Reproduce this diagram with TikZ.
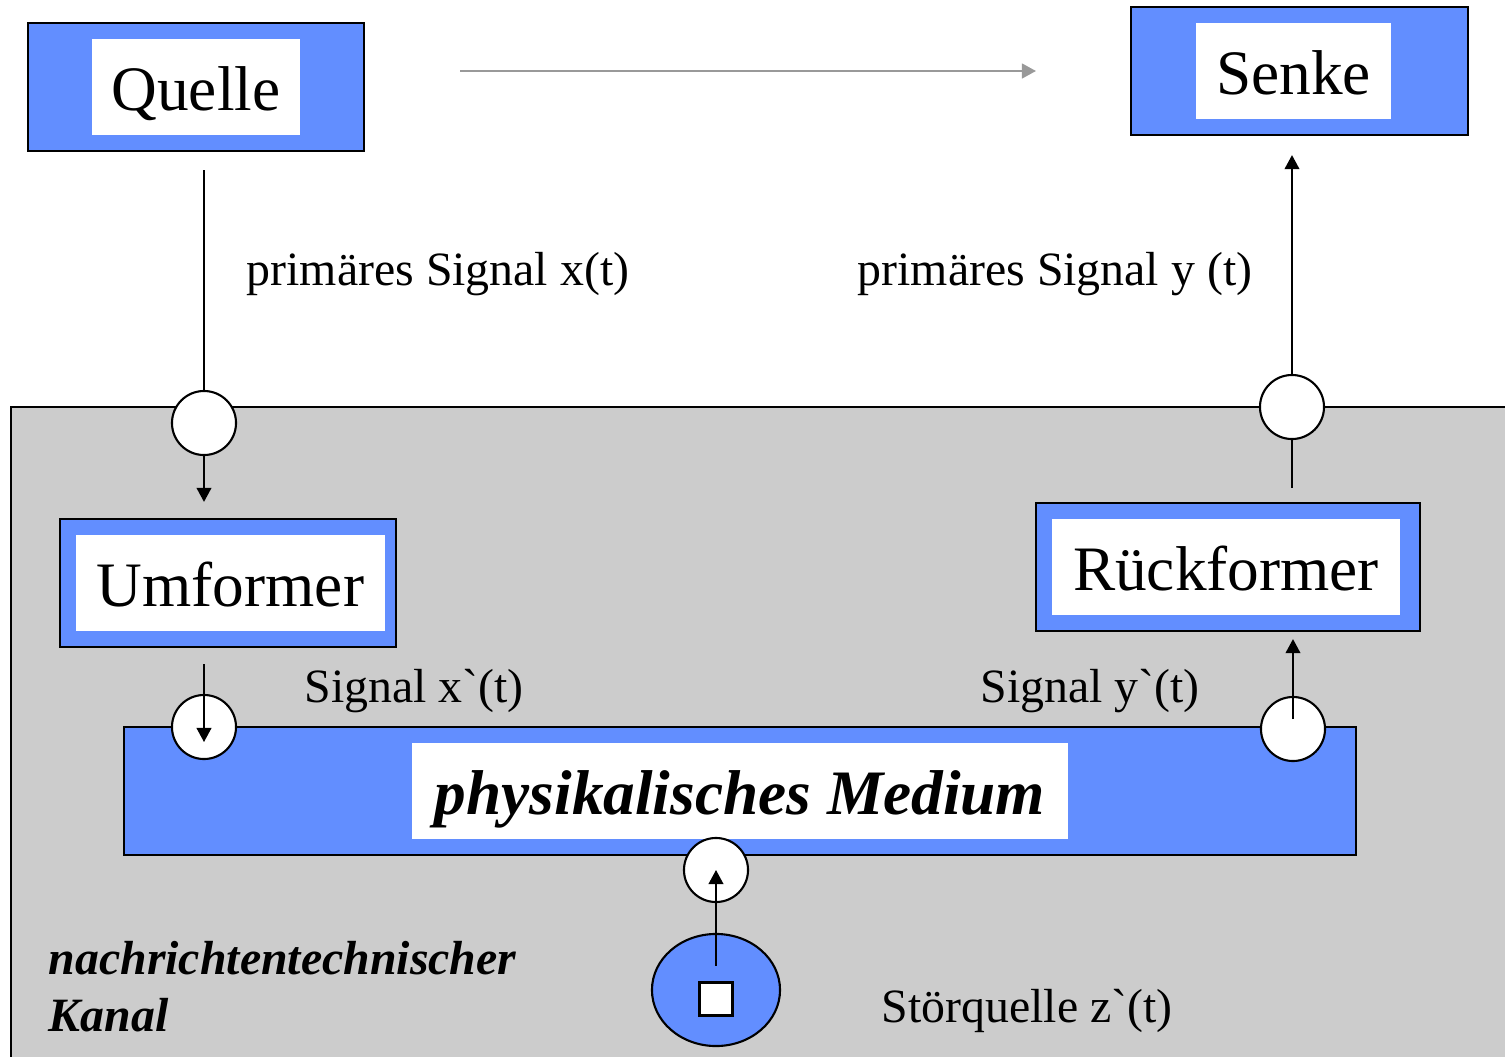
\documentclass[tikz,border=0pt]{standalone}
\usepackage{fontspec}
\setmainfont{Liberation Serif}
\usepackage{xcolor}
\usepackage{tikz}
\usetikzlibrary{arrows.meta,positioning,shapes.geometric}
\definecolor{boxblue}{RGB}{98,142,255}
\definecolor{kanalgrey}{RGB}{204,204,204}
\newcommand{\grosstext}{\fontsize{18}{21}\selectfont}
\newcommand{\kleintext}{\fontsize{13.6}{16.3}\selectfont}

\begin{document}
\begin{tikzpicture}[x=0.01cm,y=-0.01cm,>={Triangle[length=4pt,width=4.2pt]},
outer/.style={draw,line width=0.6pt,fill=boxblue,minimum height=1.28cm,inner sep=0pt},
inner/.style={fill=white,inner sep=0pt,minimum height=0.96cm,text height=0.6cm,text depth=0.14cm,font=\grosstext},
port/.style={circle,draw,line width=0.6pt,fill=white,minimum size=0.64cm,inner sep=0pt},
lbl/.style={anchor=base west,inner sep=0pt,font=\kleintext},
verb/.style={line width=0.45pt}]
\useasboundingbox (0,0) rectangle (1505,1057);
\fill[kanalgrey] (11,407) rectangle (1505,1057);
\draw[line width=0.6pt] (1505,407) -- (11,407) -- (11,1057);
\node[outer,minimum width=3.36cm] (quelle) at (196,87) {};
\node[inner,minimum width=2.08cm] (quelletext) at (196,87) {Quelle};
\node[outer,minimum width=3.37cm] (senke) at (1299.5,71) {};
\node[inner,minimum width=1.95cm] (senketext) at (1293.5,71) {Senke};
\node[outer,minimum width=3.36cm] (umformer) at (228,583) {};
\node[inner,minimum width=3.09cm] (umformertext) at (230.5,583) {Umformer};
\node[outer,minimum width=3.84cm] (rueck) at (1228,567) {};
\node[inner,minimum width=3.48cm] (ruecktext) at (1226,567) {Rückformer};
\node[outer,minimum width=12.32cm] (medium) at (740,791) {};
\node[inner,minimum width=6.56cm,font=\grosstext\bfseries\itshape] (mediumtext) at (740,791) {physikalisches Medium};
\node[ellipse,draw,line width=0.6pt,fill=boxblue,minimum width=1.28cm,minimum height=1.12cm] (stoer) at (716,990) {};
\node[draw,line width=0.6pt,fill=white,minimum size=0.33cm,inner sep=0pt] (quadrat) at (716,999) {};
\node[port] (cin) at (204,423) {};
\node[port] (cout) at (1292,407) {};
\node[port] (cmx) at (204,727) {};
\node[port] (cmy) at (1293,729) {};
\node[port] (cnoise) at (716,870) {};
\coordinate (grauanfang) at (460,71);
\coordinate (grauende) at (1036,71);
\draw[->,line width=0.6pt,black!40] (grauanfang) -- (grauende);
\draw[verb] ([yshift=-0.18cm]cin |- quelle.south) -- (cin);
\draw[verb,->] (cin) -- ([yshift=0.16cm]cin |- umformer.north);
\draw[verb,->] ([yshift=-0.16cm]cmx |- umformer.south) -- ([yshift=-0.15cm]cmx.center);
\draw[verb,->] ([yshift=0.1cm]cmy.center) -- ([yshift=-0.07cm]cmy |- rueck.south);
\draw[verb] ([yshift=0.14cm]cout |- rueck.north) -- (cout);
\draw[verb,->] (cout) -- ([yshift=-0.19cm]cout |- senke.south);
\draw[verb,->] ([yshift=0.24cm]stoer.center) -- (cnoise.center);
\node[lbl] (xlbl) at (246,285) {primäres Signal x(t)};
\node[lbl] (ylbl) at (857,285) {primäres Signal y (t)};
\node[lbl] (xstrich) at (304,702) {Signal x\textasciigrave(t)};
\node[lbl] (ystrich) at (980,702) {Signal y\textasciigrave(t)};
\node[lbl] (zstrich) at (881,1022) {Störquelle z\textasciigrave(t)};
\node[anchor=south west,align=left,inner sep=0pt,font=\kleintext\bfseries\itshape] (kanal) at (48,1033) {nachrichtentechnischer\\Kanal};
\end{tikzpicture}
\end{document}
